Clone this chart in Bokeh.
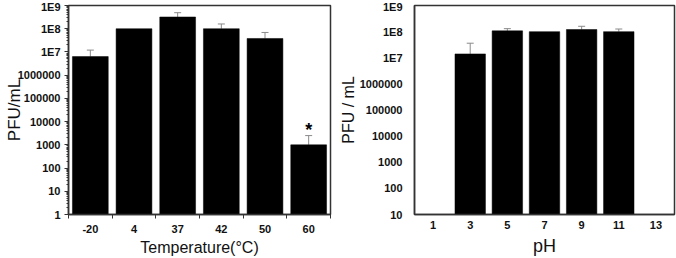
from bokeh.plotting import figure
from bokeh.layouts import row
from bokeh.models import ColumnDataSource, FixedTicker, Whisker, TeeHead, Range1d
from bokeh.core.properties import value
from bokeh.embed import file_html
from bokeh.resources import INLINE

# ---------------- data ----------------
temp_labels = ["-20", "4", "37", "42", "50", "60"]
temp_pfu = [6.3e6, 1.0e8, 3.2e8, 1.0e8, 3.8e7, 1.0e3]
temp_err_top = [1.2e7, None, 4.9e8, 1.6e8, 6.9e7, 2.5e3]
temp_marks = ["", "", "", "", "", "*"]

ph_labels = ["1", "3", "5", "7", "9", "11", "13"]
ph_pfu = [None, 1.4e7, 1.07e8, 1.0e8, 1.2e8, 1.0e8, None]
ph_err_top = [None, 3.6e7, 1.3e8, None, 1.6e8, 1.26e8, None]

left_y_ticks = [1, 10, 100, 1000, 10000, 100000, 1000000, 1e7, 1e8, 1e9]
left_y_tick_labels = ["1", "10", "100", "1000", "10000", "100000", "1000000", "1E7", "1E8", "1E9"]
right_y_ticks = [10, 100, 1000, 10000, 100000, 1000000, 1e7, 1e8, 1e9]
right_y_tick_labels = ["10", "100", "1000", "10000", "100000", "1000000", "1E7", "1E8", "1E9"]

FONT = "Liberation Sans"
FRAME = "#333333"
ERR = "#8a8a8a"


def style(p):
    p.background_fill_color = "white"
    p.border_fill_color = "white"
    p.outline_line_color = FRAME
    p.outline_line_width = 1.5
    p.xgrid.visible = False
    p.ygrid.visible = False
    for ax in (p.xaxis[0], p.yaxis[0]):
        ax.axis_line_color = FRAME
        ax.axis_line_width = 1.5
        ax.major_tick_line_color = FRAME
        ax.minor_tick_line_color = FRAME
        ax.major_label_text_font = FONT
        ax.major_label_text_font_style = "bold"
        ax.major_label_text_font_size = "11px"
        ax.major_label_text_color = "#111111"
        ax.axis_label_text_font = FONT
        ax.axis_label_text_font_style = "normal"
        ax.axis_label_text_color = "#111111"


def bars(p, pfu, err_top, bottom, width):
    xs = [i for i, v in enumerate(pfu) if v is not None]
    src = ColumnDataSource(dict(x=xs, top=[pfu[i] for i in xs]))
    p.vbar(x="x", top="top", bottom=bottom, width=width, source=src,
           fill_color="black", line_color="black", line_width=0.5)
    ex = [i for i, e in enumerate(err_top) if e is not None]
    esrc = ColumnDataSource(dict(x=ex, lower=[pfu[i] for i in ex], upper=[err_top[i] for i in ex]))
    w = Whisker(base="x", lower="lower", upper="upper", source=esrc,
                line_color=ERR, line_width=1,
                upper_head=TeeHead(size=7, line_color=ERR, line_width=1), lower_head=None)
    p.add_layout(w)


# ---------------- left: temperature ----------------
p1 = figure(width=336, height=258, output_backend="svg", toolbar_location=None,
            x_range=Range1d(-0.5, len(temp_labels) - 0.5),
            y_axis_type="log", y_range=Range1d(left_y_ticks[0], left_y_ticks[-1]),
            min_border_top=5, min_border_right=6, min_border_bottom=42, min_border_left=68)
style(p1)
bars(p1, temp_pfu, temp_err_top, left_y_ticks[0], 0.82)

mx = [i for i, m in enumerate(temp_marks) if m]
p1.text(x=mx, y=[temp_err_top[i] for i in mx], text=[temp_marks[i] for i in mx],
        text_font=value(FONT), text_font_style="bold", text_font_size="18px",
        text_align="center", text_baseline="alphabetic", y_offset=-6, text_color="black")

xa = p1.xaxis[0]
xa.ticker = FixedTicker(ticks=list(range(len(temp_labels))),
                        minor_ticks=[i - 0.5 for i in range(len(temp_labels) + 1)])
xa.major_label_overrides = {i: lab for i, lab in enumerate(temp_labels)}
xa.major_tick_out = 0
xa.major_tick_in = 0
xa.minor_tick_out = 4
xa.minor_tick_in = 0
xa.major_label_standoff = 6
xa.axis_label = "Temperature(°C)"
xa.axis_label_text_font_size = "16px"
xa.axis_label_standoff = 3

minor_left = [m * t for t in left_y_ticks[:-1] for m in range(2, 10)]
ya = p1.yaxis[0]
ya.ticker = FixedTicker(ticks=left_y_ticks, minor_ticks=minor_left)
ya.major_label_overrides = {t: lab for t, lab in zip(left_y_ticks, left_y_tick_labels)}
ya.major_tick_out = 4
ya.major_tick_in = 0
ya.minor_tick_out = 2
ya.minor_tick_in = 0
ya.major_label_standoff = 4
ya.axis_label = "PFU/mL"
ya.axis_label_text_font_size = "17px"
ya.axis_label_standoff = -9

# ---------------- right: pH ----------------
p2 = figure(width=340, height=258, output_backend="svg", toolbar_location=None,
            x_range=Range1d(-0.5, len(ph_labels) - 0.5),
            y_axis_type="log", y_range=Range1d(right_y_ticks[0], right_y_ticks[-1]),
            min_border_top=5, min_border_right=2, min_border_bottom=43, min_border_left=78)
style(p2)
bars(p2, ph_pfu, ph_err_top, right_y_ticks[0], 0.82)

xb = p2.xaxis[0]
xb.ticker = FixedTicker(ticks=list(range(len(ph_labels))))
xb.major_label_overrides = {i: lab for i, lab in enumerate(ph_labels)}
xb.major_tick_out = 0
xb.major_tick_in = 0
xb.minor_tick_line_color = None
xb.major_label_standoff = 6
xb.axis_label = "pH"
xb.axis_label_text_font_size = "18px"
xb.axis_label_standoff = 4

yb = p2.yaxis[0]
yb.ticker = FixedTicker(ticks=right_y_ticks, minor_ticks=[])
yb.major_label_overrides = {t: lab for t, lab in zip(right_y_ticks, right_y_tick_labels)}
yb.major_tick_out = 0
yb.major_tick_in = 0
yb.minor_tick_line_color = None
yb.major_label_standoff = 12
yb.axis_label = "PFU / mL"
yb.axis_label_text_font_size = "16px"
yb.axis_label_standoff = 0

layout = row(p1, p2)
open("out.html", "w").write(file_html(layout, INLINE))
